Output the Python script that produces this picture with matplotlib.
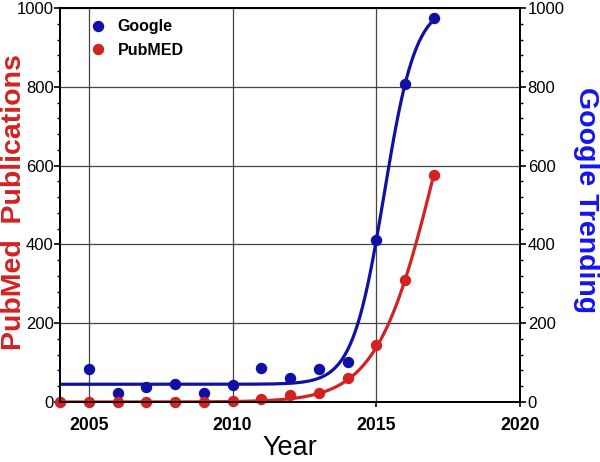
import matplotlib
matplotlib.use("Agg")
import matplotlib.pyplot as plt
import numpy as np
from matplotlib.ticker import MultipleLocator

plt.rcParams['font.family'] = ['Liberation Sans', 'DejaVu Sans']

years = [2004, 2005, 2006, 2007, 2008, 2009, 2010, 2011, 2012, 2013, 2014, 2015, 2016, 2017]
google = [None, 84, 22, 38, 46, 22, 43, 86, 62, 83, 101, 410, 806, 974]
pubmed = [1, 1, 1, 1, 1, 1, 2, 8, 18, 22, 61, 145, 309, 576]

# fitted sigmoid parameters
g_base, g_top, g_k, g_x0 = 45, 1010, 1.816, 2015.274
p_top, p_k, p_x0 = 1200, 0.979, 2017.08

blue = "#1010a4"
red = "#d42222"

fig = plt.figure(figsize=(6, 4.62), dpi=100)
ax = fig.add_axes([0.1, 0.1299, 0.7667, 0.8528])
ax2 = ax.twinx()

xs = np.linspace(2004, 2017, 300)
g_fit = g_base + (g_top - g_base) / (1 + np.exp(-g_k * (xs - g_x0)))
p_fit = p_top / (1 + np.exp(-p_k * (xs - p_x0)))

gx = [y for y, v in zip(years, google) if v is not None]
gy = [v for v in google if v is not None]

ax.plot(xs, g_fit, color=blue, lw=2.3, zorder=3)
ax.plot(xs, p_fit, color=red, lw=2.3, zorder=3)
ax.plot(gx, gy, "o", color=blue, ms=7.2, zorder=4, clip_on=False, label="Google")
ax.plot(years, pubmed, "o", color=red, ms=7.2, zorder=4, clip_on=False, label="PubMED")

for a, pad in ((ax, 0.5), (ax2, 1.5)):
    a.set_ylim(0, 1000)
    a.yaxis.set_major_locator(MultipleLocator(200))
    a.yaxis.set_minor_locator(MultipleLocator(40))
    a.tick_params(axis="y", which="major", direction="out", length=4, width=1.2, labelsize=12, pad=pad)
    a.tick_params(axis="y", which="minor", direction="out", length=2.5, width=1)
    for s in a.spines.values():
        s.set_linewidth(1.3)

ax.set_xlim(2004, 2020)
ax.set_xticks([2005, 2010, 2015, 2020])
ax.tick_params(axis="x", direction="out", length=3.5, width=1.2, labelsize=12.7, pad=7)
for lbl in ax.get_xticklabels():
    lbl.set_fontweight("bold")

ax.grid(True, color="#444444", lw=0.9)
ax.set_axisbelow(True)

fig.text(290 / 600, 1 / 462, "Year", fontsize=19.5, ha="center", va="bottom")
fig.text(14 / 600, 1 - 202 / 462, "PubMed  Publications", fontsize=20.5, fontweight="bold",
         color=red, rotation=90, ha="center", va="center")
fig.text(586 / 600, 1 - 200 / 462, "Google Trending", fontsize=20.5, fontweight="bold",
         color="#1414ee", rotation=270, ha="center", va="center")

ax.legend(loc="upper left", frameon=False, handlelength=0.8,
          handletextpad=0.8, borderaxespad=0.3, labelspacing=0.55,
          bbox_to_anchor=(0.045, 1.0), prop={"weight": "bold", "size": 11.5})

fig.savefig("out.png", dpi=100)
